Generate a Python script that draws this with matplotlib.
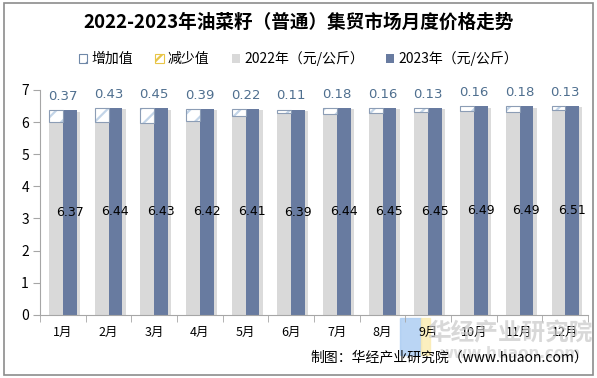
import numpy as np
import matplotlib.pyplot as plt
import matplotlib.patheffects as pe
from matplotlib.patches import Patch, Rectangle

plt.rcParams['font.family'] = ['Noto Sans CJK SC', 'DejaVu Sans']
plt.rcParams['hatch.linewidth'] = 1.6

months = ['1月', '2月', '3月', '4月', '5月', '6月', '7月', '8月', '9月', '10月', '11月', '12月']
price_2023 = [6.37, 6.44, 6.43, 6.42, 6.41, 6.39, 6.44, 6.45, 6.45, 6.49, 6.49, 6.51]
change = [0.37, 0.43, 0.45, 0.39, 0.22, 0.11, 0.18, 0.16, 0.13, 0.16, 0.18, 0.13]
price_2022 = [6.00, 6.01, 5.98, 6.03, 6.19, 6.28, 6.26, 6.29, 6.32, 6.33, 6.31, 6.38]

c22 = '#D9D9D9'
c23 = '#687BA0'
label_col = '#4F6F8F'

fig = plt.figure(figsize=(5.97, 3.78), dpi=100)
ax = fig.add_axes([0.067, 0.167, 0.918, 0.595])

x = np.arange(len(months))
w = 0.3
shadow = [pe.SimplePatchShadow(offset=(2.5, -1), shadow_rgbFace='#999999', alpha=0.35), pe.Normal()]

b22 = ax.bar(x - w / 2, price_2022, w, color=c22, zorder=2)
b23 = ax.bar(x + w / 2, price_2023, w, color=c23, zorder=2)
for b in list(b22) + list(b23):
    b.set_path_effects(shadow)

# increase part drawn on top of the 2022 bar
inc = np.array(price_2023) - np.array(price_2022)
ax.bar(x - w / 2, inc, w, bottom=price_2022, color='white', edgecolor='#C3D5E8',
       hatch='//', linewidth=0, zorder=3)
ax.bar(x - w / 2, inc, w, bottom=price_2022, fill=False, edgecolor='#8C9DB5',
       linewidth=0.8, zorder=4)

for i in range(len(months)):
    ax.text(x[i], price_2023[i] + 0.22, f'{change[i]:.2f}', ha='center', va='bottom',
            fontsize=9.5, color=label_col, family=['DejaVu Sans'])
    ax.text(x[i] + w / 2, price_2023[i] / 2, f'{price_2023[i]:.2f}', ha='center', va='center',
            fontsize=9, color='black', family=['DejaVu Sans'])

ax.set_xlim(-0.5, len(months) - 0.5)
ax.set_ylim(0, 7)
ax.set_yticks(range(8))
ax.set_xticks(x)
ax.set_xticklabels(months, fontsize=9)
ax.set_xticks(np.arange(-0.5, len(months)), minor=True)
ax.tick_params(axis='x', which='major', length=0, pad=8)
ax.tick_params(axis='x', which='minor', length=5, color='#A6A6A6')
ax.tick_params(axis='y', length=5, color='#A6A6A6', labelsize=10, pad=3)
for s in ['top', 'right']:
    ax.spines[s].set_visible(False)
for s in ['left', 'bottom']:
    ax.spines[s].set_color('#A6A6A6')

handles = [
    Patch(facecolor='white', edgecolor='#6F88A8', hatch='//', linewidth=0.8, label='增加值'),
    Patch(facecolor='white', edgecolor='#E8C547', hatch='//', linewidth=0.8, label='减少值'),
    Patch(facecolor=c22, label='2022年（元/公斤）'),
    Patch(facecolor=c23, label='2023年（元/公斤）'),
]
fig.legend(handles=handles, loc='center', bbox_to_anchor=(0.5, 0.845), ncol=4, frameon=False,
           fontsize=10, handlelength=0.6, handleheight=0.6, handletextpad=0.3, columnspacing=1.6)

fig.text(0.5, 0.94, '2022-2023年油菜籽（普通）集贸市场月度价格走势', ha='center', va='center',
         fontsize=13.4, fontweight='bold')

# watermark
fig.add_artist(Rectangle((0.67, 0.06), 0.035, 0.1, transform=fig.transFigure,
                         color='#A9CBF2', alpha=0.8, zorder=0))
fig.add_artist(Rectangle((0.705, 0.06), 0.016, 0.1, transform=fig.transFigure,
                         color='#FBEBB0', alpha=0.8, zorder=0))
fig.text(0.855, 0.118, '华经产业研究院', ha='center', va='center', fontsize=17,
         fontweight='bold', color='#C8C8C8', alpha=0.7)
fig.text(0.855, 0.065, 'www.huaon.com', ha='center', va='center', fontsize=11,
         fontweight='bold', color='#D0D0D0', alpha=0.7, family=['DejaVu Sans'])

fig.text(0.985, 0.055, '制图：华经产业研究院（www.huaon.com）', ha='right', va='center', fontsize=10)

fig.add_artist(Rectangle((0.006, 0.008), 0.988, 0.984, transform=fig.transFigure,
                         fill=False, edgecolor='#8C8C8C', linewidth=1.2))

fig.savefig('out.png', dpi=100)
